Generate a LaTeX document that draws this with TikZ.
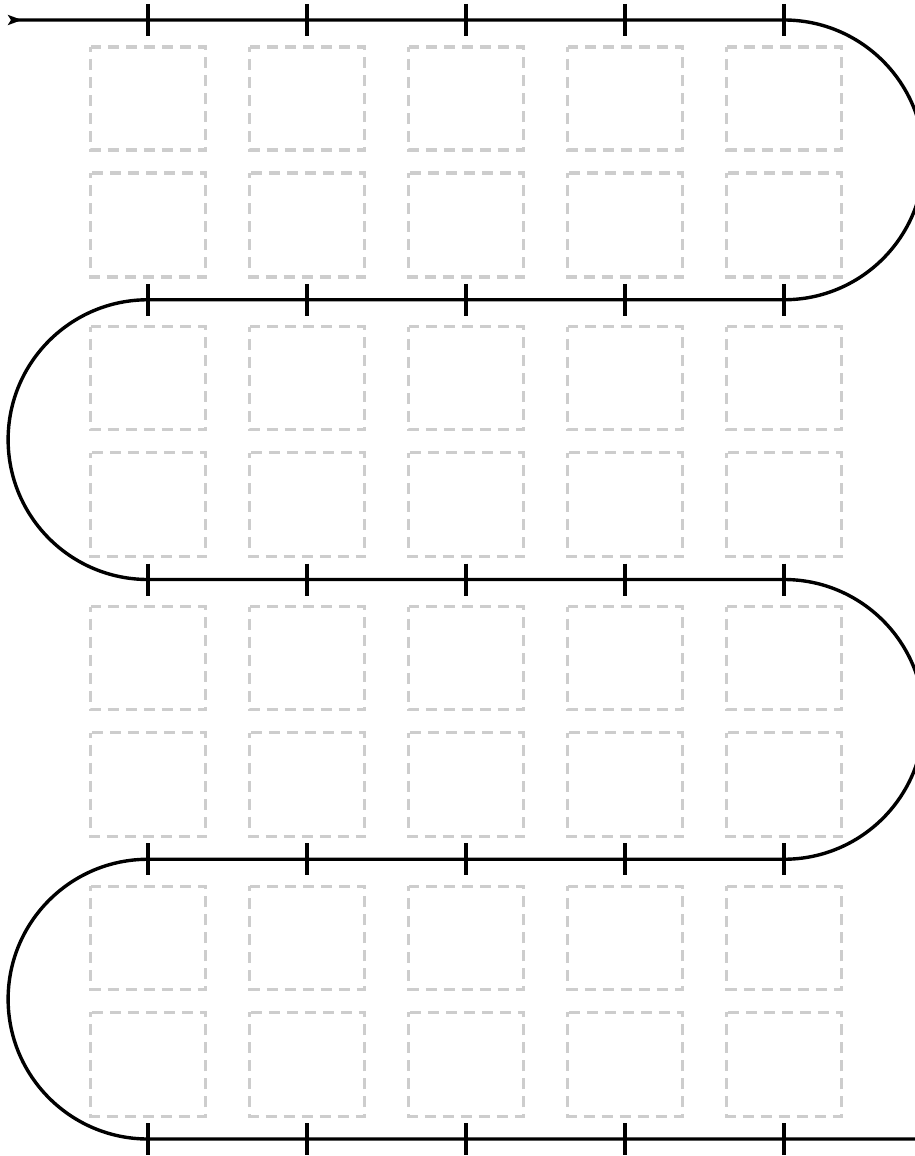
\documentclass[tikz,border=0pt]{standalone}
\usetikzlibrary{arrows.meta}
\begin{document}
\begin{tikzpicture}[x=1pt,y=1pt,
  track/.style={line width=3.4pt,black},
  tickmark/.style={line width=3.4pt,black},
  tile/.style={draw={rgb,255:red,205;green,205;blue,205},line width=3.2pt,dash pattern=on 11pt off 7pt,dash phase=6pt}]
\useasboundingbox (0,0) rectangle (915,-1156);
\def\R{139.875}
% tiles
\foreach \k in {0,1,2,3}{
  \foreach \cx in {148,307,466,625,784}{
    \pgfmathsetmacro{\yt}{-(20+279.75*\k)}
    \draw[tile] (\cx-57.5,\yt-27) rectangle (\cx+57.5,\yt-130);
    \draw[tile] (\cx-57.5,\yt-153) rectangle (\cx+57.5,\yt-257);
  }
}
% track
\coordinate (s) at (8,-20);
\draw[track,{Stealth[reversed,length=14pt,width=10pt,inset=3pt]}-]
  (s) -- (784,-20) arc[start angle=90,end angle=-90,radius=\R]
  -- (148,-299.75) arc[start angle=90,end angle=270,radius=\R]
  -- (784,-579.5) arc[start angle=90,end angle=-90,radius=\R]
  -- (148,-859.25) arc[start angle=90,end angle=270,radius=\R]
  -- (915,-1139);
% ticks
\foreach \k in {0,1,2,3,4}{
  \foreach \cx in {148,307,466,625,784}{
    \pgfmathsetmacro{\yl}{-(20+279.75*\k)}
    \draw[tickmark] (\cx,\yl+16) -- (\cx,\yl-16);
  }
}
\end{tikzpicture}
\end{document}
